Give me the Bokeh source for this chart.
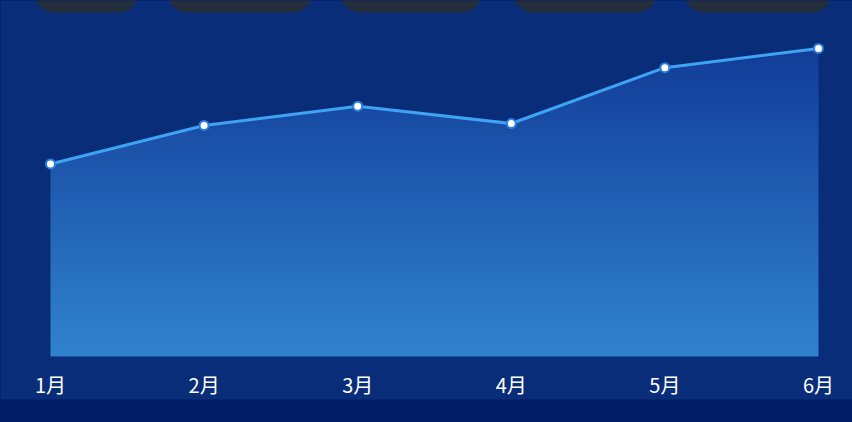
import numpy as np
from bokeh.plotting import figure
from bokeh.models import BoxAnnotation, FixedTicker
from bokeh.embed import file_html
from bokeh.resources import INLINE

months = ["1月", "2月", "3月", "4月", "5月", "6月"]
month_pos = [1, 2, 3, 4, 5, 6]
values = [100, 120, 130, 121, 150, 160]

W, H = 852, 422
CARD = "#0a2d7a"
STRIP = "#001c66"
TAB = "#232d3b"
LINE = "#3fa3f4"
GRAD_TOP = (18, 61, 152)
GRAD_BOT = (49, 131, 207)


def sy(y_from_top):
    # screen units of BoxAnnotation are measured from the bottom of the canvas
    return H - y_from_top


p = figure(width=W, height=H, x_range=(0.6745, 6.2214), y_range=(-34.3, 184.9),
           min_border=0, toolbar_location=None, output_backend="svg",
           y_axis_location=None, background_fill_color=STRIP,
           border_fill_color=STRIP, outline_line_color=None)
p.grid.visible = False

# card with rounded bottom-left corner
card = BoxAnnotation(left=-20, right=W + 30, top=sy(-30), bottom=sy(399),
                     left_units="screen", right_units="screen",
                     top_units="screen", bottom_units="screen",
                     fill_color=CARD, fill_alpha=1, line_color=None,
                     border_radius=10, level="underlay")
p.add_layout(card)

# cut-off tabs at the top
tab_edges = [(34, 138), (167, 312), (340, 481), (513, 656), (684, 831)]
for l, r in tab_edges:
    p.add_layout(BoxAnnotation(left=l, right=r, top=sy(-40), bottom=sy(12),
                               left_units="screen", right_units="screen",
                               top_units="screen", bottom_units="screen",
                               fill_color=TAB, fill_alpha=1, line_color=None,
                               border_radius=20, level="underlay"))

# vertical gradient for the area (top of area -> baseline)
n = 256
t = np.linspace(0, 1, n)[:, None]  # row 0 = bottom
top = np.array(GRAD_TOP)
bot = np.array(GRAD_BOT)
rgb = bot + (top - bot) * t
img = np.zeros((n, 1), dtype=np.uint32)
view = img.view(dtype=np.uint8).reshape((n, 1, 4))
view[:, 0, 0] = rgb[:, 0].astype(np.uint8)
view[:, 0, 1] = rgb[:, 1].astype(np.uint8)
view[:, 0, 2] = rgb[:, 2].astype(np.uint8)
view[:, 0, 3] = 255
xmin, xmax = min(month_pos), max(month_pos)
ymax = max(values)
p.image_rgba(image=[img], x=xmin, y=0, dw=xmax - xmin, dh=ymax)

# mask above the line (extended a little sideways to hide the image edges)
pad = 0.05
mask_x = [xmin - pad] + month_pos + [xmax + pad]
mask_y = [values[0]] + values + [values[-1]]
p.varea(x=mask_x, y1=mask_y, y2=[ymax + 1] * len(mask_x),
        fill_color=CARD, fill_alpha=1)

p.line(month_pos, values, line_color=LINE, line_width=3)
p.scatter(month_pos, values, size=9, fill_color="white",
          line_color="#2a7fe0", line_width=2)

ax = p.xaxis[0]
ax.fixed_location = 0
ax.ticker = FixedTicker(ticks=month_pos)
ax.major_label_overrides = {k: m for k, m in zip(month_pos, months)}
ax.axis_line_color = None
ax.major_tick_line_color = None
ax.minor_tick_line_color = None
ax.major_tick_out = 0
ax.major_label_standoff = 14
ax.major_label_text_color = "white"
ax.major_label_text_font = "Noto Sans CJK SC"
ax.major_label_text_font_style = "normal"
ax.major_label_text_font_size = "20px"

html = file_html(p, INLINE)
html = html.replace("</head>", "<style>html,body{margin:0!important;padding:0;background:%s;overflow:hidden}</style></head>" % STRIP, 1)
open("out.html", "w").write(html)
